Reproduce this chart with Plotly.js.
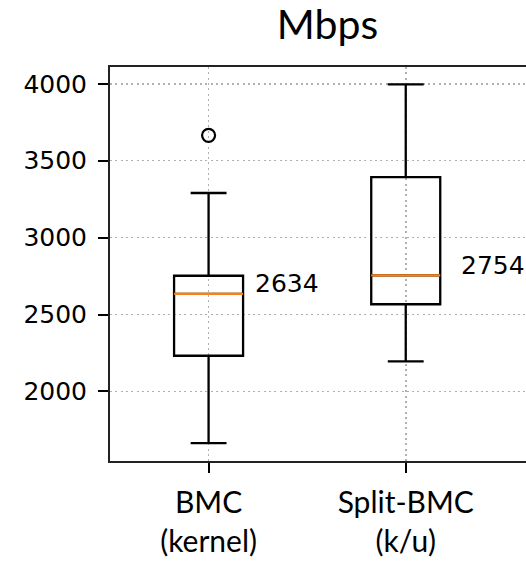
<!DOCTYPE html>
<html>
<head>
<meta charset="utf-8">
<script src="https://cdn.plot.ly/plotly-3.0.1.min.js"></script>
<style>
html,body{margin:0;padding:0;overflow:hidden;background:#fff;}
#chart{width:560px;height:566px;}
</style>
</head>
<body>
<div id="chart"></div>
<script>
// ---- data ----
var positions = [1, 2];
var categories = ["BMC<br>(kernel)", "Split-BMC<br>(k/u)"];
var lowerWhisker = [1664, 2195];
var q1Values = [2232, 2567];
var medians = [2634, 2754];
var q3Values = [2752, 3393];
var upperWhisker = [3290, 3996];
var outlierX = [1];
var outlierY = [3665];
var medianLabels = ["2634", "2754"];
var yTicks = [2000, 2500, 3000, 3500, 4000];
var titleText = "Mbps";

var boxWidth = 0.35;
var labelDx = [0.226, 0.272];
var labelDy = [66, 66];

var traces = [];
traces.push({
  type: 'box',
  x: positions,
  q1: q1Values,
  median: medians,
  q3: q3Values,
  lowerfence: lowerWhisker,
  upperfence: upperWhisker,
  width: boxWidth,
  whiskerwidth: 0.52,
  boxpoints: false,
  fillcolor: 'rgba(255,255,255,0)',
  line: {color: '#000', width: 2.3},
  hoverinfo: 'skip',
  showlegend: false
});
positions.forEach(function(p, i){
  traces.push({
    type: 'scatter', mode: 'lines',
    x: [p - boxWidth/2, p + boxWidth/2],
    y: [medians[i], medians[i]],
    line: {color: '#ff7f0e', width: 2.3},
    hoverinfo: 'skip', showlegend: false
  });
});
traces.push({
  type: 'scatter', mode: 'markers',
  x: outlierX, y: outlierY,
  marker: {symbol: 'circle-open', size: 13, color: '#000', line: {width: 2.2, color: '#000'}},
  hoverinfo: 'skip', showlegend: false
});

var annotations = positions.map(function(p, i){
  return {
    x: p + labelDx[i], y: medians[i] + labelDy[i],
    xref: 'x', yref: 'y',
    text: medianLabels[i], showarrow: false,
    xanchor: 'left', yanchor: 'middle',
    font: {family: 'DejaVu Sans', size: 25, color: '#000'}
  };
});

var gridStyle = {showgrid: true, gridcolor: '#b0b0b0', gridwidth: 1.6, griddash: '2px,3.3px'};

var layout = {
  width: 560, height: 566,
  margin: {l: 110, r: 20, t: 67, b: 105},
  paper_bgcolor: '#fff', plot_bgcolor: '#fff',
  showlegend: false,
  title: {
    text: titleText,
    font: {family: 'Lato', size: 41, color: '#000'},
    xref: 'container', x: 327.5/560, xanchor: 'center',
    yref: 'container', y: 1 - 25/566, yanchor: 'middle'
  },
  xaxis: Object.assign({
    range: [0.5, 2.681],
    tickmode: 'array', tickvals: positions, ticktext: categories,
    tickfont: {family: 'Lato', size: 30, color: '#000'},
    ticks: 'outside', ticklen: 10, tickwidth: 2, tickcolor: '#000',
    ticklabelstandoff: 4,
    showline: true, linecolor: '#222', linewidth: 2, mirror: true,
    zeroline: false, fixedrange: true
  }, gridStyle),
  yaxis: Object.assign({
    range: [1548, 4109],
    tickmode: 'array', tickvals: yTicks, ticktext: yTicks.map(String),
    tickfont: {family: 'DejaVu Sans', size: 25, color: '#000'},
    ticks: 'outside', ticklen: 10, tickwidth: 2, tickcolor: '#000',
    ticklabelstandoff: 6,
    showline: true, linecolor: '#222', linewidth: 2, mirror: true,
    zeroline: false, fixedrange: true
  }, gridStyle),
  annotations: annotations
};

Plotly.newPlot('chart', traces, layout, {staticPlot: true, displayModeBar: false});
</script>
</body>
</html>
